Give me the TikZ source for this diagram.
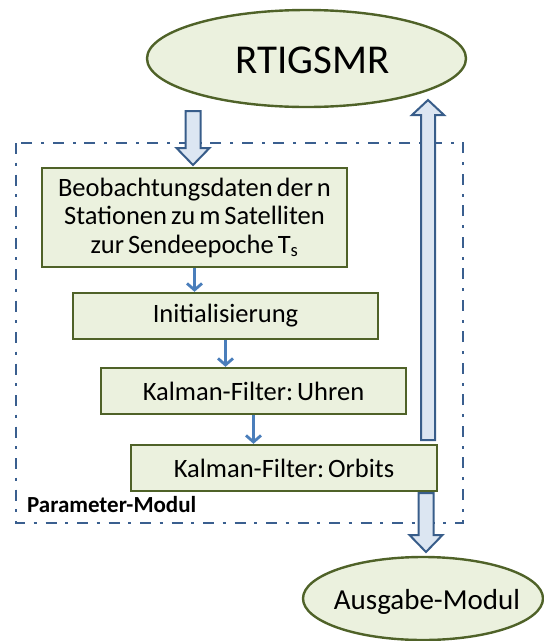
\documentclass[tikz,border=0pt]{standalone}
\usepackage{fontspec}
\setmainfont{Carlito}
\usetikzlibrary{arrows.meta,calc,shapes.geometric}

\definecolor{boxfill}{HTML}{EBF1DE}
\definecolor{boxline}{HTML}{4F6228}
\definecolor{blkfill}{HTML}{DCE6F2}
\definecolor{blkline}{HTML}{385D8A}
\definecolor{flowcol}{HTML}{4A7EBB}
\definecolor{framecol}{HTML}{3A5F8F}

\tikzset{
  stepbox/.style={draw=boxline, fill=boxfill, line width=2.4pt,
    minimum width=305pt, minimum height=46pt, inner sep=0pt,
    font={\fontsize{26.5}{28.5}\selectfont\spaceskip=0.15em\xspaceskip=0.15em\relax},
    align=center},
  oval/.style={ellipse, draw=boxline, fill=boxfill, line width=2.4pt, inner sep=0pt},
  barrow/.style={draw=blkline, fill=blkfill, line width=2pt, line join=miter},
  flow/.style={draw=flowcol, line width=2.8pt,
    -{Straight Barb[length=6.5pt,width=15pt,line width=2.8pt]}},
  modframe/.style={draw=framecol, line width=2.7pt,
    dash pattern=on 11pt off 8.5pt on 3pt off 9pt}
}

% vertical block arrows: #1 = tail, #2 = tip
\newcommand\blockdown[2]{%
  \draw[barrow] ($(#1)+(-7.5,0)$) -- ($(#2)+(-7.5,-17)$) -- ($(#2)+(-16.5,-17)$)
    -- (#2) -- ($(#2)+(16.5,-17)$) -- ($(#2)+(7.5,-17)$) -- ($(#1)+(7.5,0)$) -- cycle;}
\newcommand\blockup[2]{%
  \draw[barrow] ($(#1)+(-7,0)$) -- ($(#2)+(-7,15)$) -- ($(#2)+(-16,15)$)
    -- (#2) -- ($(#2)+(16,15)$) -- ($(#2)+(7,15)$) -- ($(#1)+(7,0)$) -- cycle;}

\begin{document}
\begin{tikzpicture}[x=1pt,y=-1pt]
\useasboundingbox (0,0) rectangle (544,641);

% module frame
\draw[modframe] (16,143) rectangle (463,523);
\node[anchor=base west, inner sep=0pt, font=\bfseries\fontsize{23}{26}\selectfont]
  (modlabel) at (27,512) {Parameter-Modul};

% end points of the loop arrows
\node[oval, minimum width=319pt, minimum height=97pt] (top) at (306.5,58.5) {};
\node[font=\fontsize{41}{46}\selectfont] (toplabel) at ($(top.center)+(6,2)$) {RTIGSMR};

\node[stepbox, minimum height=99pt] (b1) at (194.5,217.5)
  {Beobachtungsdaten der n\\Stationen zu m Satelliten\\zur Sendeepoche T\textsubscript{s}};
\node[stepbox] (b2) at (225.5,316) {Initialisierung};
\node[stepbox] (b3) at (253.5,391) {Kalman-Filter: Uhren};
\node[stepbox, minimum width=306pt] (b4) at (284,468) {Kalman-Filter: Orbits};

\node[oval, minimum width=240pt, minimum height=83pt] (out) at (423,598.5) {};
\node[font=\fontsize{29}{32}\selectfont] (outlabel) at ($(out.center)+(4,3)$) {Ausgabe-Modul};

% flow inside the module
\draw[flow] (b1.south) -- (b1.south |- b2.north);
\draw[flow] (b2.south) -- (b2.south |- b3.north);
\draw[flow] (b3.south) -- (b3.south |- b4.north);

% block arrows
\coordinate (inTail) at (193,111);
\coordinate (inTip)  at (193,165);
\blockdown{inTail}{inTip}

\coordinate (upTail) at (428,440);
\coordinate (upTip)  at (428,100);
\blockup{upTail}{upTip}

\coordinate (outTail) at (426,493);
\coordinate (outTip)  at (426,552);
\blockdown{outTail}{outTip}
\end{tikzpicture}
\end{document}
